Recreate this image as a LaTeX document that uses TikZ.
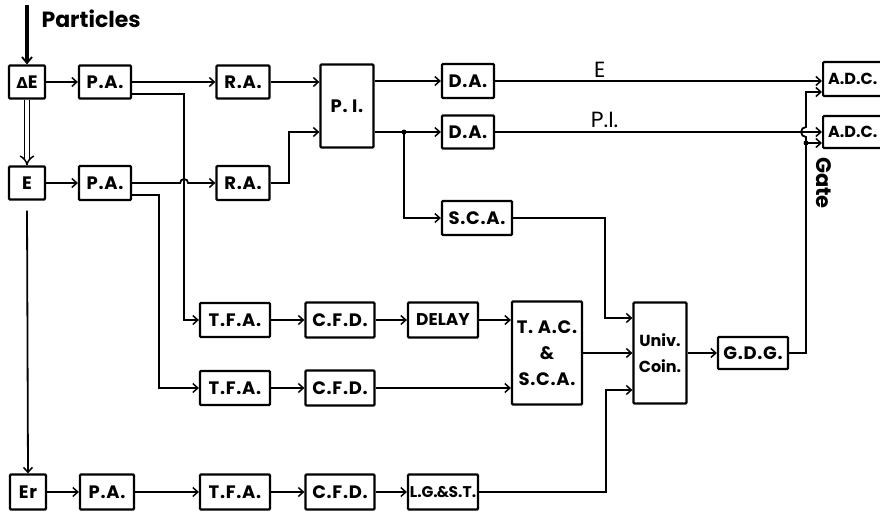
\documentclass[tikz,border=0pt]{standalone}
\usepackage{fontspec}
\setmainfont{Poppins}
\newfontfamily\boxfont{Poppins}[LetterSpace=4]
\newfontfamily\dv{DejaVu Sans}
\usetikzlibrary{arrows.meta}
\begin{document}
\begin{tikzpicture}[x=1pt,y=-1pt,
  box/.style={draw, line width=2.2pt, rounded corners=1pt, inner sep=0pt,
    font=\boxfont\fontsize{18}{21}\selectfont\bfseries, align=center},
  ln/.style={line width=1.8pt},
  arr/.style={ln, -{Straight Barb[length=5pt,width=9pt,line width=1.5pt]}},
  lbl/.style={font=\fontsize{22}{24}\selectfont},
  jdot/.style={circle, fill, inner sep=0pt, minimum size=5pt}]
\useasboundingbox (0,0) rectangle (880,512);

% column 1
\node[box, minimum width=36, minimum height=33] (dE) at (27,82) {{\dv\bfseries\fontsize{15}{18}\selectfont Δ}E};
\node[box, minimum width=36, minimum height=33] (E) at (27,183) {E};
\node[box, minimum width=36, minimum height=35] (Er) at (28,492) {Er};
% preamplifiers
\node[box, minimum width=52, minimum height=33] (pa1) at (105,82) {P.A.};
\node[box, minimum width=52, minimum height=34] (pa2) at (105,183) {P.A.};
\node[box, minimum width=54, minimum height=35] (pa3) at (107,492) {P.A.};
% research amps
\node[box, minimum width=53, minimum height=33] (ra1) at (243,82) {R.A.};
\node[box, minimum width=53, minimum height=34] (ra2) at (243,183) {R.A.};
% PI
\node[box, minimum width=53, minimum height=83] (pi) at (347,106) {P. I.};
\node[box, minimum width=52, minimum height=34] (da1) at (468,81) {D.A.};
\node[box, minimum width=52, minimum height=33] (da2) at (468,132) {D.A.};
\node[box, minimum width=70, minimum height=34] (sca) at (477,218) {S.C.A.};
% timing
\node[box, minimum width=70, minimum height=34] (tfa1) at (235,320) {T.F.A.};
\node[box, minimum width=70, minimum height=34] (tfa2) at (235,388) {T.F.A.};
\node[box, minimum width=70, minimum height=35] (tfa3) at (235,492) {T.F.A.};
\node[box, minimum width=69, minimum height=35] (cfd1) at (340,320) {C.F.D.};
\node[box, minimum width=69, minimum height=35] (cfd2) at (340,388) {C.F.D.};
\node[box, minimum width=69, minimum height=35] (cfd3) at (340,492) {C.F.D.};
\node[box, minimum width=70, minimum height=35, font=\fontsize{17}{20}\selectfont\bfseries] (delay) at (443,320) {DELAY};
\node[box, minimum width=70, minimum height=35, font=\fontsize{15.5}{18}\selectfont\bfseries] (lgst) at (443,492) {L.G.\kern-1pt\&\kern-0.5pt S.T.};
\node[box, minimum width=70, minimum height=103, font=\boxfont\fontsize{18}{26}\selectfont\bfseries] (tac) at (547,353) {T. A.C.\\ \&\\ S.C.A.};
\node[box, minimum width=53, minimum height=101, font=\fontsize{16}{26}\selectfont\bfseries] (uc) at (660,353) {Univ.\\Coin.};
\node[box, minimum width=70, minimum height=32] (gdg) at (753,353) {G.D.G.};
% ADCs (cut by the right edge)
\node[box, anchor=west, minimum width=80, minimum height=34, text width=70, align=left, inner xsep=5pt, font=\fontsize{16}{19}\selectfont\bfseries] (adc1) at (822,79) {A.D.C.};
\node[box, anchor=west, minimum width=80, minimum height=32, text width=70, align=left, inner xsep=5pt, font=\fontsize{16}{19}\selectfont\bfseries] (adc2) at (822,132) {A.D.C.};

% labels
\node[anchor=west, font=\fontsize{22}{24}\selectfont\bfseries] (ptxt) at (38,19) {Particles};
\node[rotate=-90, font=\fontsize{21}{22}\selectfont\bfseries] (gate) at (824,183) {Gate};

% particles in
\coordinate (p0) at (27,5);
\draw[line width=4.5pt, -{Straight Barb[length=6pt,width=10pt,line width=1.8pt]}] (p0) -- (dE.north);
\draw[double, double distance=3.5pt, line width=1.5pt, -{Implies[length=5pt]}] (dE.south) -- (E.north);
\draw[arr] ([yshift=-10pt]E.south) -- (Er.north);

% top row
\draw[arr] (dE.east) -- (pa1.west);
\draw[arr] (pa1.east) -- (ra1.west);
\draw[arr] ([yshift=5.5pt]pa1.south east) -- ++(52,0) |- (tfa1.west);
\draw[arr] (ra1.east) -- (ra1.east -| pi.west);

% second row
\draw[arr] (E.east) -- (pa2.west);
\draw[arr] (pa2.east) -- ++(48,0) arc[start angle=180,end angle=360,radius=4] -- (ra2.west);
\draw[arr] ([yshift=6pt]pa2.south east) -- ++(27,0) |- (tfa2.west);
\draw[arr] (ra2.east) -- ++(18,0) |- (pi.west |- da2.west);

% PI outputs
\draw[arr] (pi.east |- da1.west) -- (da1.west);
\draw[arr] (pi.east |- da2.west) -- (da2.west);
\coordinate (j1) at (404,132);
\node[jdot] (j1dot) at (j1) {};
\draw[arr] (j1) |- (sca.west);
\draw[arr] (da1.east) -- node[lbl, above, pos=0.32, inner sep=3pt] (lE) {E} (da1.east -| adc1.west);
\draw[arr] (da2.east) -- node[lbl, above, pos=0.335, inner sep=3pt] (lPI) {P.I.} (da2.east -| adc2.west);

% timing rows
\draw[arr] (tfa1.east) -- (cfd1.west);
\draw[arr] (cfd1.east) -- (delay.west);
\draw[arr] (delay.east) -- (delay.east -| tac.west);
\draw[arr] (tfa2.east) -- (cfd2.west);
\draw[arr] (cfd2.east) -- (cfd2.east -| tac.west);

% bottom row
\draw[arr] (Er.east) -- (pa3.west);
\draw[arr] (pa3.east) -- (tfa3.west);
\draw[arr] (tfa3.east) -- (cfd3.west);
\draw[arr] (cfd3.east) -- (lgst.west);

% coincidence
\draw[arr] (sca.east) -- ++(92,0) |- ([yshift=35pt]uc.west);
\draw[arr] (tac.east) -- (tac.east -| uc.west);
\draw[arr] (lgst.east) -- ++(127,0) |- ([yshift=-37pt]uc.west);
\draw[arr] (uc.east) -- (gdg.west);

% gate
\coordinate (g1) at (806,143);
\node[jdot] (g1dot) at (g1) {};
\draw[ln] (gdg.east) -| (g1);
\draw[arr] (g1) -- (g1 -| adc2.west);
\draw[arr] (g1) -- ++(0,-6) arc[start angle=90,end angle=270,radius=5] |- ([yshift=-13pt]adc1.west);
\end{tikzpicture}
\end{document}
